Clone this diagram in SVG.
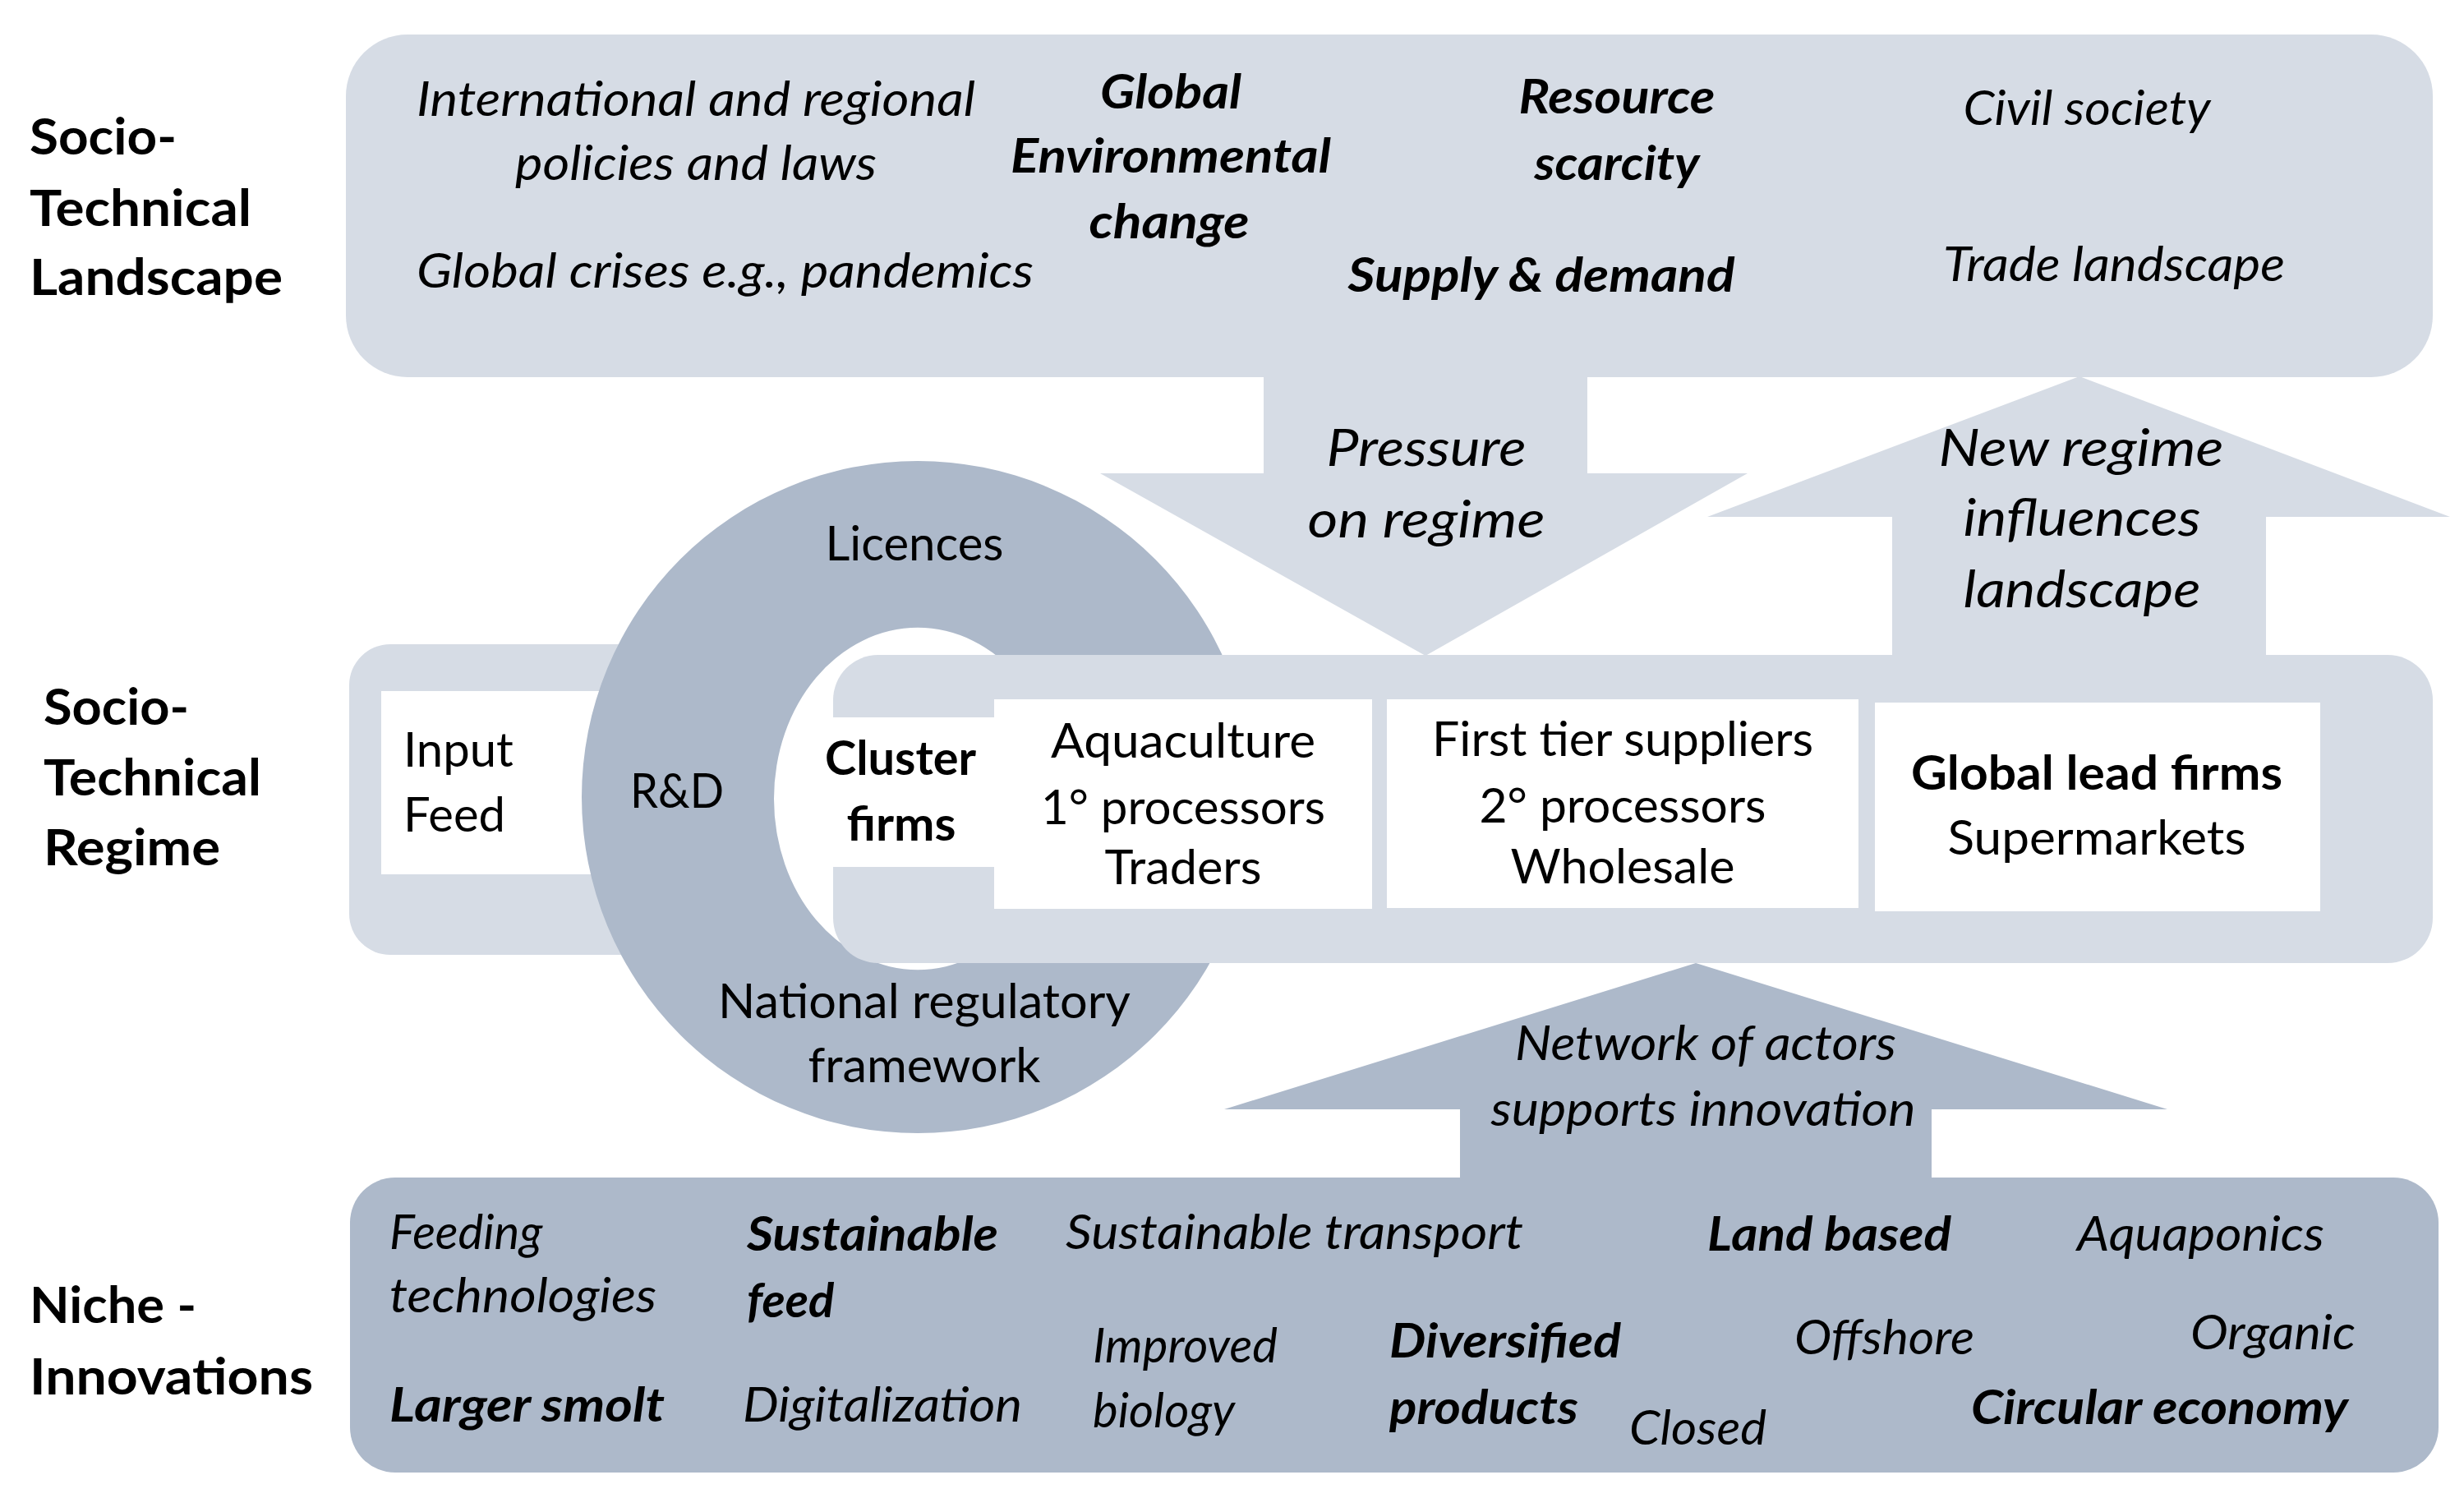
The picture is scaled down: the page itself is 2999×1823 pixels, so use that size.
<svg xmlns="http://www.w3.org/2000/svg" width="2999" height="1823" viewBox="0 0 2999 1823">
<defs>
<style>
.lt{fill:#D6DCE5}
.dk{fill:#ADB9CA}
.wh{fill:#FFFFFF}
text{font-family:Lato,"Liberation Sans",sans-serif;fill:#000;}
.it{font-style:italic;font-size:58px}
.bi{font-style:italic;font-weight:bold;font-size:58px}
.rg{font-size:58px}
.bd{font-weight:bold;font-size:58px}
.lab{font-weight:bold;font-size:62px}
.ar{font-style:italic;font-size:62px}
</style>
</defs>
<rect width="2999" height="1823" fill="#FFFFFF"/>

<g id="labels">
<text class="lab" x="36" y="188" textLength="179" lengthAdjust="spacingAndGlyphs">Socio-</text>
<text class="lab" x="36" y="275" textLength="270" lengthAdjust="spacingAndGlyphs">Technical</text>
<text class="lab" x="36" y="359" textLength="308" lengthAdjust="spacingAndGlyphs">Landscape</text>
<text class="lab" x="53" y="882" textLength="177" lengthAdjust="spacingAndGlyphs">Socio-</text>
<text class="lab" x="53" y="968" textLength="265" lengthAdjust="spacingAndGlyphs">Technical</text>
<text class="lab" x="53" y="1053" textLength="215" lengthAdjust="spacingAndGlyphs">Regime</text>
<text class="lab" x="36" y="1610" textLength="203" lengthAdjust="spacingAndGlyphs">Niche -</text>
<text class="lab" x="36" y="1697" textLength="345" lengthAdjust="spacingAndGlyphs">Innovations</text>
</g>

<g id="landscape">
<rect class="lt" x="421" y="42" width="2540" height="417" rx="75" ry="75"/>
<text class="it" x="847" y="141" text-anchor="middle" textLength="680" lengthAdjust="spacingAndGlyphs">International and regional</text>
<text class="it" x="847" y="219" text-anchor="middle" textLength="440" lengthAdjust="spacingAndGlyphs">policies and laws</text>
<text class="it" x="507" y="350" textLength="751" lengthAdjust="spacingAndGlyphs">Global crises e.g., pandemics</text>
<text class="bi" x="1425" y="132" text-anchor="middle" textLength="172" lengthAdjust="spacingAndGlyphs">Global</text>
<text class="bi" x="1425" y="210" text-anchor="middle" textLength="390" lengthAdjust="spacingAndGlyphs">Environmental</text>
<text class="bi" x="1423" y="290" text-anchor="middle" textLength="195" lengthAdjust="spacingAndGlyphs">change</text>
<text class="bi" x="1968" y="138" text-anchor="middle" textLength="239" lengthAdjust="spacingAndGlyphs">Resource</text>
<text class="bi" x="1968" y="219" text-anchor="middle" textLength="201" lengthAdjust="spacingAndGlyphs">scarcity</text>
<text class="bi" x="1876" y="355" text-anchor="middle" textLength="471" lengthAdjust="spacingAndGlyphs">Supply &amp; demand</text>
<text class="it" x="2540" y="152" text-anchor="middle" textLength="301" lengthAdjust="spacingAndGlyphs">Civil society</text>
<text class="it" x="2573" y="342" text-anchor="middle" textLength="416" lengthAdjust="spacingAndGlyphs">Trade landscape</text>
</g>

<g id="connectors">
<g id="pressure-arrow">
<polygon class="lt" points="1538,440 1932,440 1932,576 2127,576 1735,798 1339,576 1538,576"/>
<text class="ar" x="1736" y="567" text-anchor="middle" textLength="243" lengthAdjust="spacingAndGlyphs">Pressure</text>
<text class="ar" x="1736" y="654" text-anchor="middle" textLength="289" lengthAdjust="spacingAndGlyphs">on regime</text>
</g>
<g id="influence-arrow">
<polygon class="lt" points="2531,458 2982,629 2758,629 2758,805 2303,805 2303,629 2078,629"/>
<text class="ar" x="2533" y="567" text-anchor="middle" textLength="347" lengthAdjust="spacingAndGlyphs">New regime</text>
<text class="ar" x="2534" y="652" text-anchor="middle" textLength="289" lengthAdjust="spacingAndGlyphs">influences</text>
<text class="ar" x="2534" y="739" text-anchor="middle" textLength="289" lengthAdjust="spacingAndGlyphs">landscape</text>
</g>
</g>

<g id="regime-input">
<rect class="lt" x="425" y="784" width="430" height="378" rx="50" ry="50"/>
<rect class="wh" x="464" y="841" width="336" height="223"/>
<text class="rg" x="491" y="933">Input</text>
<text class="rg" x="491" y="1012">Feed</text>
</g>

<g id="ring">
<path class="dk" fill-rule="evenodd" d="M708,970 A409,409 0 1,0 1526,970 A409,409 0 1,0 708,970 Z M942,972 A175,208 0 1,0 1292,972 A175,208 0 1,0 942,972 Z"/>
<text class="rg" x="824" y="983" text-anchor="middle" textLength="114" lengthAdjust="spacingAndGlyphs">R&amp;D</text>
<text class="rg" x="1113" y="682" text-anchor="middle" textLength="217" lengthAdjust="spacingAndGlyphs">Licences</text>
</g>

<g id="regime-chain">
<rect class="lt" x="1014" y="797" width="1947" height="375" rx="55" ry="55"/>
<rect class="wh" x="1014" y="873" width="196" height="182"/>
<text class="bd" x="1096" y="943" text-anchor="middle" textLength="184" lengthAdjust="spacingAndGlyphs">Cluster</text>
<text class="bd" x="1097" y="1023" text-anchor="middle" textLength="133" lengthAdjust="spacingAndGlyphs">firms</text>
</g>

<g id="aquaculture">
<rect class="wh" x="1210" y="851" width="460" height="255"/>
<text class="rg" x="1440" y="922" text-anchor="middle" textLength="322" lengthAdjust="spacingAndGlyphs">Aquaculture</text>
<text class="rg" x="1440" y="1003" text-anchor="middle" textLength="346" lengthAdjust="spacingAndGlyphs">1° processors</text>
<text class="rg" x="1440" y="1076" text-anchor="middle" textLength="191" lengthAdjust="spacingAndGlyphs">Traders</text>
</g>

<g id="first-tier">
<rect class="wh" x="1688" y="851" width="574" height="254"/>
<text class="rg" x="1975" y="920" text-anchor="middle" textLength="464" lengthAdjust="spacingAndGlyphs">First tier suppliers</text>
<text class="rg" x="1975" y="1001" text-anchor="middle" textLength="349" lengthAdjust="spacingAndGlyphs">2° processors</text>
<text class="rg" x="1975" y="1075" text-anchor="middle" textLength="273" lengthAdjust="spacingAndGlyphs">Wholesale</text>
</g>

<g id="global-lead">
<rect class="wh" x="2282" y="855" width="542" height="254"/>
<text class="bd" x="2552" y="961" text-anchor="middle" textLength="452" lengthAdjust="spacingAndGlyphs">Global lead firms</text>
<text class="rg" x="2552" y="1040" text-anchor="middle" textLength="363" lengthAdjust="spacingAndGlyphs">Supermarkets</text>
</g>

<g id="national-framework">
<text class="rg" x="1125" y="1239" text-anchor="middle" textLength="502" lengthAdjust="spacingAndGlyphs">National regulatory</text>
<text class="rg" x="1125" y="1317" text-anchor="middle" textLength="283" lengthAdjust="spacingAndGlyphs">framework</text>
</g>

<g id="network-arrow">
<polygon class="dk" points="2064,1172 2638,1350 2351,1350 2351,1445 1777,1445 1777,1350 1490,1350"/>
<text class="it" x="2076" y="1290" text-anchor="middle" textLength="464" lengthAdjust="spacingAndGlyphs">Network of actors</text>
<text class="it" x="2073" y="1370" text-anchor="middle" textLength="517" lengthAdjust="spacingAndGlyphs">supports innovation</text>
</g>

<g id="niche">
<rect class="dk" x="426" y="1433" width="2542" height="359" rx="55" ry="55"/>
<text class="it" x="474" y="1520">Feeding</text>
<text class="it" x="474" y="1597" textLength="325" lengthAdjust="spacingAndGlyphs">technologies</text>
<text class="bi" x="909" y="1522" textLength="306" lengthAdjust="spacingAndGlyphs">Sustainable</text>
<text class="bi" x="909" y="1603">feed</text>
<text class="bi" x="474" y="1730" textLength="335" lengthAdjust="spacingAndGlyphs">Larger smolt</text>
<text class="it" x="904" y="1730" textLength="340" lengthAdjust="spacingAndGlyphs">Digitalization</text>
<text class="it" x="1297" y="1520" textLength="557" lengthAdjust="spacingAndGlyphs">Sustainable transport</text>
<text class="it" x="1330" y="1658">Improved</text>
<text class="it" x="1330" y="1737">biology</text>
<text class="bi" x="2078" y="1522" textLength="297" lengthAdjust="spacingAndGlyphs">Land based</text>
<text class="it" x="2528" y="1522" textLength="301" lengthAdjust="spacingAndGlyphs">Aquaponics</text>
<text class="bi" x="1691" y="1652" textLength="282" lengthAdjust="spacingAndGlyphs">Diversified</text>
<text class="bi" x="1691" y="1733" textLength="230" lengthAdjust="spacingAndGlyphs">products</text>
<text class="it" x="1983" y="1758" textLength="167" lengthAdjust="spacingAndGlyphs">Closed</text>
<text class="it" x="2184" y="1648" textLength="219" lengthAdjust="spacingAndGlyphs">Offshore</text>
<text class="it" x="2666" y="1642" textLength="201" lengthAdjust="spacingAndGlyphs">Organic</text>
<text class="bi" x="2399" y="1733" textLength="459" lengthAdjust="spacingAndGlyphs">Circular economy</text>
</g>
</svg>
